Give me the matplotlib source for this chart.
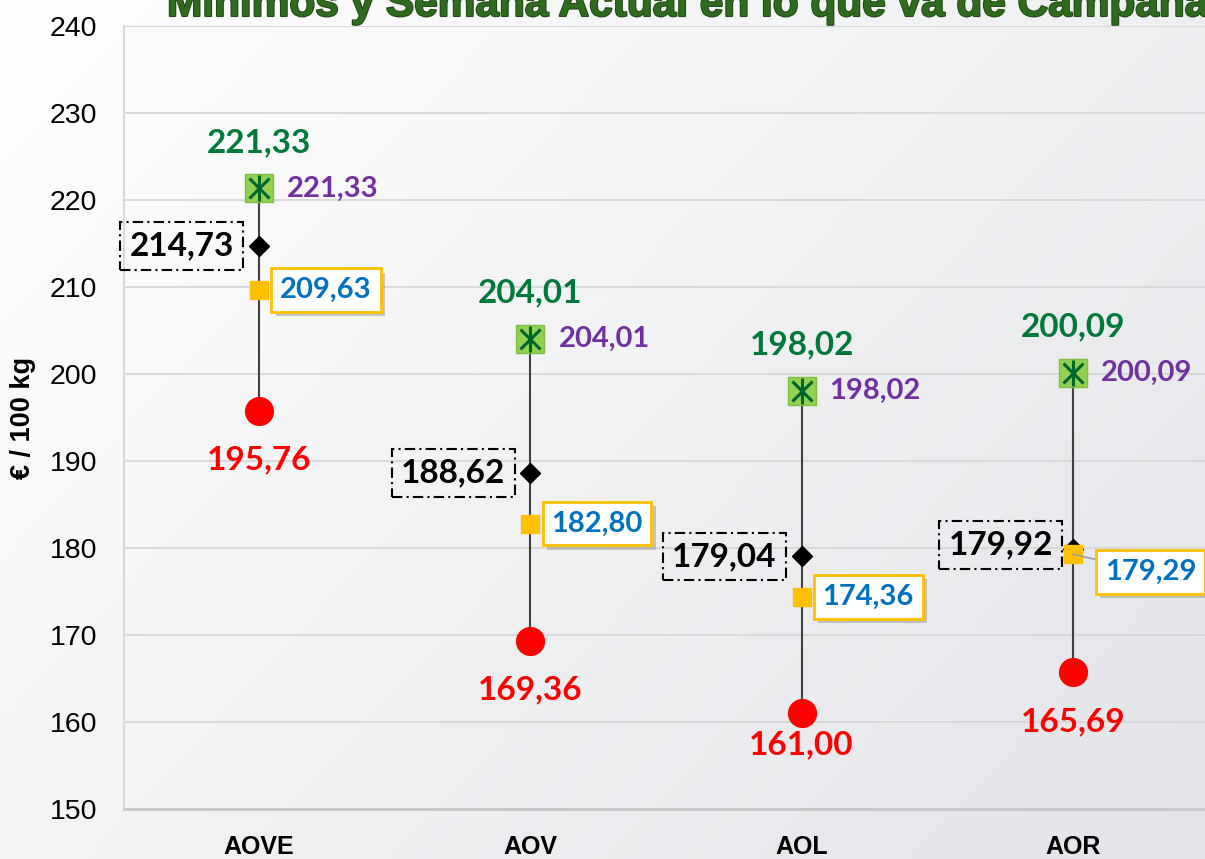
"""
Precio mínimo, medio, máximo y semana actual por categoría de aceite.
"""
import matplotlib
matplotlib.use("Agg")
import matplotlib.pyplot as plt
import matplotlib.patheffects as pe
import numpy as np
from matplotlib.colors import LinearSegmentedColormap

# -- Datos (€/100 kg)
categorias = ["AOVE", "AOV", "AOL", "AOR"]
maximos = [221.33, 204.01, 198.02, 200.09]
medias = [214.73, 188.62, 179.04, 179.92]
actual = [209.63, 182.80, 174.36, 179.29]
minimos = [195.76, 169.36, 161.00, 165.69]
y_ticks = list(range(150, 241, 10))

titulo = "Mínimos y Semana Actual en lo que va de Campaña"

LABEL_FONT = ["Lato", "DejaVu Sans"]
AXIS_FONT = ["Liberation Sans", "DejaVu Sans"]


def fmt(v):
    return f"{v:.2f}".replace(".", ",")


def px(p):
    # pixels -> points (dpi 100)
    return p * 0.72


fig = plt.figure(figsize=(12.05, 8.59), dpi=100)

# Fondo degradado
bg = fig.add_axes([0, 0, 1, 1], zorder=0)
xx, yy = np.meshgrid(np.linspace(0, 1, 300), np.linspace(0, 1, 300))
grad = (xx * 0.6 + yy * 0.4)
cmap_bg = LinearSegmentedColormap.from_list("bg", ["#ffffff", "#e3e4e8"])
bg.imshow(grad, cmap=cmap_bg, aspect="auto", extent=[0, 1, 0, 1], origin="upper")
bg.axis("off")

ax = fig.add_axes([123.5 / 1205, 1 - 809 / 859, 1085 / 1205, 783 / 859], zorder=1)
ax.set_facecolor("none")

x = np.arange(len(categorias))

# Líneas verticales
for i in x:
    ax.plot([i, i], [minimos[i], maximos[i]], color="#404040", lw=1.5, zorder=2)

# Marcadores
ax.plot(x, maximos, "s", ms=20, mfc="#92d050", mec="#7fbf3f", mew=1, ls="none", zorder=4)
ax.plot(x, maximos, "x", ms=15, mew=2.2, color="#00642d", ls="none", zorder=5)
ax.plot(x, maximos, "|", ms=19, mew=2.2, color="#00642d", ls="none", zorder=5)
ax.plot(x, medias, "D", ms=10, color="black", ls="none", zorder=4)
ax.plot(x, actual, "s", ms=12.5, color="#ffc000", ls="none", zorder=4)
ax.plot(x, minimos, "o", ms=20, color="#ff0000", ls="none", zorder=4)

# Etiquetas
for i in x:
    # máximo (verde, encima)
    ax.annotate(fmt(maximos[i]), (i, maximos[i]), xytext=(0, px(46)),
                textcoords="offset points", ha="center", va="center",
                fontsize=24, fontweight="bold", color="#00783a", family=LABEL_FONT, zorder=6)
    # máximo (morado, derecha)
    ax.annotate(fmt(maximos[i]), (i, maximos[i]), xytext=(px(28), 0),
                textcoords="offset points", ha="left", va="center",
                fontsize=21, fontweight="bold", color="#7030a0", family=LABEL_FONT, zorder=6)
    # mínimo (rojo, debajo)
    dy_min = -32 if categorias[i] == "AOL" else -49
    ax.annotate(fmt(minimos[i]), (i, minimos[i]), xytext=(0, px(dy_min)),
                textcoords="offset points", ha="center", va="center",
                fontsize=24, fontweight="bold", color="#ff0000", family=LABEL_FONT, zorder=6)
    # media (negro, caja punto-raya)
    if categorias[i] == "AOR":
        off_med = (px(-20), px(4))
    else:
        off_med = (px(-25), 0)
    ax.annotate(fmt(medias[i]), (i, medias[i]), xytext=off_med,
                textcoords="offset points", ha="right", va="center",
                fontsize=24, fontweight="bold", color="black", family=LABEL_FONT, zorder=6,
                bbox=dict(boxstyle="square,pad=0.28", fc="none", ec="black",
                          lw=1.5, ls=(0, (5, 2, 1, 2))))
    # semana actual (azul, caja amarilla con sombra)
    if categorias[i] == "AOR":
        off_act = (px(32), px(-18))
        arrow = dict(arrowstyle="-", color="#a0a0a0", lw=1.2, shrinkA=0, shrinkB=0)
    else:
        off_act = (px(21), 0)
        arrow = None
    t = ax.annotate(fmt(actual[i]), (i, actual[i]), xytext=off_act,
                    textcoords="offset points", ha="left", va="center",
                    fontsize=21, fontweight="bold", color="#0070c0", family=LABEL_FONT, zorder=6,
                    bbox=dict(boxstyle="square,pad=0.3", fc="white", ec="#ffc000", lw=2),
                    arrowprops=arrow)
    t.get_bbox_patch().set_path_effects([
        pe.SimplePatchShadow(offset=(3, -3), shadow_rgbFace="#8a8a8a", alpha=0.45),
        pe.Normal()])

# Ejes
ax.set_xlim(-0.5, 3.5)
ax.set_ylim(150, 240)
ax.set_yticks(y_ticks)
ax.set_xticks(x)
ax.set_xticklabels(categorias, fontsize=18, fontweight="bold", family=AXIS_FONT)
for lab in ax.get_yticklabels():
    lab.set_fontsize(20.5)
    lab.set_family(AXIS_FONT)
ax.tick_params(axis="y", length=0, pad=19)
ax.tick_params(axis="x", length=0, pad=19)
ax.grid(axis="y", color="#d9d9d9", lw=1.5, zorder=0)
ax.set_axisbelow(True)
for s in ["top", "right"]:
    ax.spines[s].set_visible(False)
ax.spines["left"].set_color("#d9d9d9")
ax.spines["left"].set_linewidth(1.5)
ax.spines["bottom"].set_color("#c8c8c8")
ax.spines["bottom"].set_linewidth(2)

ax.set_ylabel("€ / 100 kg", fontsize=19.5, fontweight="bold", family=AXIS_FONT)
ax.yaxis.set_label_coords(-0.081, 0.5)

# Título (cortado en la parte superior como en el original)
fig.text(167 / 1205, 1 - 16 / 859, titulo, ha="left", va="baseline",
         fontsize=30.5, fontweight="bold", color="#2e6b1f",
         family=["Liberation Sans", "DejaVu Sans"],
         path_effects=[pe.withStroke(linewidth=1.5, foreground="#1f4a14")])

fig.savefig("out.png", dpi=100)
